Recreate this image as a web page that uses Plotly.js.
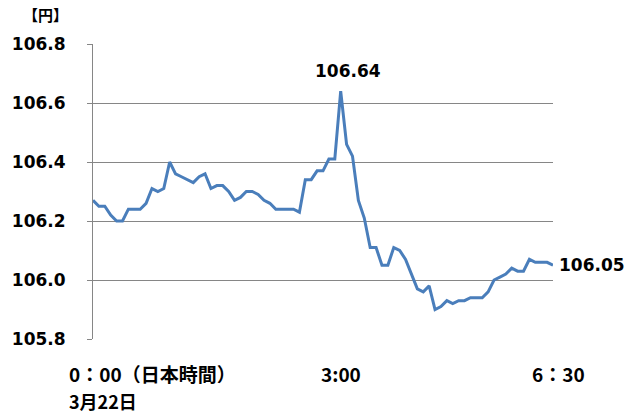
<!DOCTYPE html>
<html>
<head>
<meta charset="utf-8">
<script src="https://cdn.plot.ly/plotly-3.0.1.min.js"></script>
<style>html,body{margin:0;padding:0;background:#fff;}#chart{width:629px;height:414px;}</style>
</head>
<body>
<div id="chart"></div>
<script>
// USD/JPY, 5-minute points from 0:00 to 6:30 (JST), March 22
var prices = [
  106.27, 106.25, 106.25, 106.22, 106.20, 106.20, 106.24, 106.24, 106.24, 106.26,
  106.31, 106.30, 106.31, 106.40, 106.36, 106.35, 106.34, 106.33, 106.35, 106.36,
  106.31, 106.32, 106.32, 106.30, 106.27, 106.28, 106.30, 106.30, 106.29, 106.27,
  106.26, 106.24, 106.24, 106.24, 106.24, 106.23, 106.34, 106.34, 106.37, 106.37,
  106.41, 106.41, 106.64, 106.46, 106.42, 106.27, 106.21, 106.11, 106.11, 106.05,
  106.05, 106.11, 106.10, 106.07, 106.02, 105.97, 105.96, 105.98, 105.90, 105.91,
  105.93, 105.92, 105.93, 105.93, 105.94, 105.94, 105.94, 105.96, 106.00, 106.01,
  106.02, 106.04, 106.03, 106.03, 106.07, 106.06, 106.06, 106.06, 106.05
];
var pointIndex = [];
for (var i = 0; i < prices.length; i++) pointIndex.push(i);

var xTickText = ["0：00（日本時間）", "3:00", "6：30"];
var xTickAt = [0, 42, 78];
var dateLabel = "3月22日";
var unitLabel = "【円】";
var peakIndex = 42;
var lastIndex = 78;

var F = "DejaVu Sans, Noto Sans CJK JP, sans-serif";
var FJ = "Noto Sans CJK JP, DejaVu Sans, sans-serif";

var trace = {
  x: pointIndex, y: prices, type: 'scatter', mode: 'lines',
  line: {color: '#4a7ebb', width: 3}, hoverinfo: 'skip'
};

var ann = [
  {text: '<b>' + unitLabel + '</b>', xref: 'paper', yref: 'paper', x: 0, y: 1,
   xanchor: 'left', yanchor: 'middle', xshift: -72, yshift: 30, showarrow: false,
   font: {family: FJ, size: 15, color: '#000'}},
  {text: '<b>' + prices[peakIndex].toFixed(2) + '</b>', xref: 'x', yref: 'y', x: peakIndex, y: prices[peakIndex],
   xanchor: 'center', yanchor: 'middle', xshift: 7, yshift: 20, showarrow: false,
   font: {family: F, size: 17, color: '#000'}},
  {text: '<b>' + prices[lastIndex].toFixed(2) + '</b>', xref: 'x', yref: 'y', x: lastIndex, y: prices[lastIndex],
   xanchor: 'left', yanchor: 'middle', xshift: 4, yshift: 0, showarrow: false,
   font: {family: F, size: 17, color: '#000'}},
  {text: '<b>' + xTickText[0] + '</b>', xref: 'x', yref: 'paper', x: xTickAt[0], y: 0,
   xanchor: 'left', yanchor: 'middle', xshift: -26, yshift: -34, showarrow: false,
   font: {family: FJ, size: 19, color: '#000'}},
  {text: '<b>' + xTickText[1] + '</b>', xref: 'x', yref: 'paper', x: xTickAt[1], y: 0,
   xanchor: 'center', yanchor: 'middle', xshift: 0, yshift: -34, showarrow: false,
   font: {family: FJ, size: 19, color: '#000'}},
  {text: '<b>' + xTickText[2] + '</b>', xref: 'x', yref: 'paper', x: xTickAt[2], y: 0,
   xanchor: 'center', yanchor: 'middle', xshift: 5, yshift: -34, showarrow: false,
   font: {family: FJ, size: 19, color: '#000'}},
  {text: '<b>' + dateLabel + '</b>', xref: 'x', yref: 'paper', x: xTickAt[0], y: 0,
   xanchor: 'left', yanchor: 'middle', xshift: -26, yshift: -62, showarrow: false,
   font: {family: FJ, size: 18, color: '#000'}}
];

var layout = {
  width: 629, height: 414,
  margin: {l: 93, r: 76, t: 44, b: 75, pad: 0},
  paper_bgcolor: '#fff', plot_bgcolor: '#fff',
  showlegend: false,
  xaxis: {range: [0, 78], showgrid: false, zeroline: false, showline: false,
          showticklabels: false, ticks: '', fixedrange: true},
  yaxis: {range: [105.8, 106.8], dtick: 0.2, tick0: 105.8, tickformat: '.1f',
          showgrid: true, gridcolor: '#868686', gridwidth: 1, zeroline: false,
          showline: true, linecolor: '#868686', linewidth: 1,
          ticks: 'outside', ticklen: 5, tickcolor: '#868686',
          ticklabelstandoff: 18,
          tickfont: {family: F, size: 17, color: '#000', weight: 'bold'}},
  annotations: ann
};

Plotly.newPlot('chart', [trace], layout, {staticPlot: true, displayModeBar: false});
</script>
</body>
</html>
